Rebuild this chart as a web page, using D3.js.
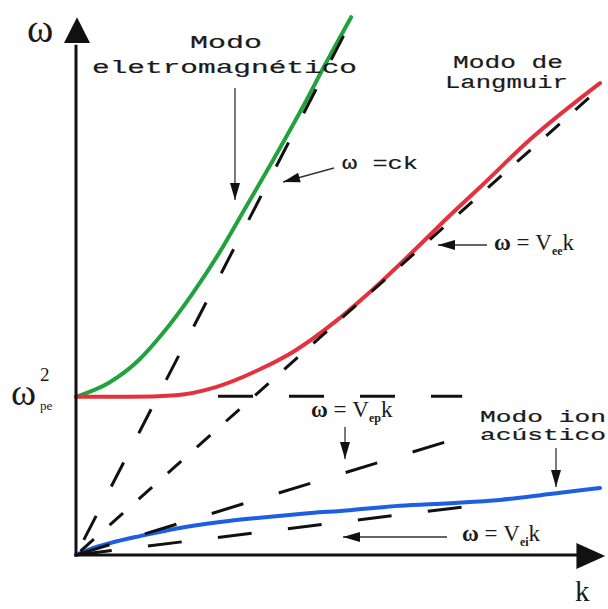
<!DOCTYPE html>
<head>
<meta charset="utf-8">
<style>
body { margin: 0; background: #fff; }
.mono { font-family: "Liberation Mono", "DejaVu Sans Mono", monospace; font-size: 19px; fill: #1a1a1a; stroke: #1a1a1a; stroke-width: 0.2; }
.math { font-family: "Liberation Serif", "DejaVu Serif", serif; fill: #1a1a1a; }
.curve { fill: none; stroke-width: 4; stroke-linecap: round; }
.asym { fill: none; stroke: #111; stroke-width: 3; }
.axis { stroke: #111; stroke-width: 3; fill: none; }
.pointer { stroke: #333; stroke-width: 1.3; fill: none; }
</style>
<title>Relação de dispersão</title>
</head>
<body>
<svg width="608" height="609"></svg>
<script src="https://d3js.org/d3.v7.min.js"></script>
<script>
/* global d3 */
// modo eletromagnetico (verde)
var emK = [0, 0.63, 1.2, 1.66, 2.23, 2.73, 3.24, 3.76, 4.33, 4.77, 5.25],
    emW = [2.93, 3.19, 3.61, 4.11, 4.85, 5.59, 6.44, 7.31, 8.3, 9.11, 9.96]
// modo de Langmuir (vermelho)
var lgK = [0, 1.03, 1.91, 2.67, 3.49, 4.14, 4.96, 5.53, 6.56, 7.04, 7.71, 8.66, 10],
    lgW = [2.93, 2.93, 2.96, 3.11, 3.43, 3.76, 4.33, 4.8, 5.74, 6.2, 6.81, 7.69, 8.74]
// modo ion acustico (azul)
var iaK = [0, 0.27, 0.65, 1.22, 1.98, 2.75, 3.51, 4.27, 5.23, 6.18, 7.14, 8.09, 9.05, 10],
    iaW = [0, 0.11, 0.22, 0.35, 0.5, 0.61, 0.69, 0.76, 0.83, 0.91, 0.96, 1.02, 1.13, 1.24]
// assintotas tracejadas: [k0, w0, k1, w1]
var asymNames = ["ck", "Vee", "wpe", "Vep", "Vei"],
    asymEnds = [[0, 0, 5.29, 9.96], [0, 0, 10, 8.65], [2.71, 2.94, 7.37, 2.94], [0, 0, 7.04, 2.09], [0, 0, 7.39, 0.89]],
    asymDash = ["27,33", "18,21", "35,36", "33,37", "34,36.5"],
    asymOffset = [43, 33, 0, 68, 68.5]

var svg = d3.select("svg")
var x = d3.scaleLinear().domain([0, 10]).range([76, 600]),
    y = d3.scaleLinear().domain([0, 10]).range([555, 15])

var line = d3.line()
    .x(function(d) { return x(d[0]); })
    .y(function(d) { return y(d[1]); })
    .curve(d3.curveMonotoneX)

function pairs(ks, ws) { return ks.map(function(k, i) { return [k, ws[i]]; }); }

// curvas coloridas
svg.append("path").attr("class", "curve").attr("stroke", "#22a23c").attr("d", line(pairs(emK, emW)))
svg.append("path").attr("class", "curve").attr("stroke", "#e3323e").attr("d", line(pairs(lgK, lgW)))
svg.append("path").attr("class", "curve").attr("stroke", "#1d5fe0").attr("d", line(pairs(iaK, iaW)))

// linhas tracejadas
svg.selectAll(".asym")
  .data(asymEnds)
  .enter().append("line")
    .attr("class", "asym")
    .attr("x1", function(d) { return x(d[0]); })
    .attr("y1", function(d) { return y(d[1]); })
    .attr("x2", function(d) { return x(d[2]); })
    .attr("y2", function(d) { return y(d[3]); })
    .attr("stroke-dasharray", function(d, i) { return asymDash[i]; })
    .attr("stroke-dashoffset", function(d, i) { return asymOffset[i]; })

// eixos com setas
svg.append("path").attr("class", "axis")
    .attr("d", "M" + x(0) + "," + (y(0) + 1.5) + "V" + y(9.45))
svg.append("path").attr("class", "axis")
    .attr("d", "M" + (x(0) - 1.5) + "," + y(0) + "H" + x(9.6))
svg.append("path").attr("fill", "#111")
    .attr("d", "M" + (x(0) + 1) + "," + y(9.96) + "L" + (x(0) - 12) + "," + y(9.48) + "L" + (x(0) + 14) + "," + y(9.48) + "Z")
svg.append("path").attr("fill", "#111")
    .attr("d", "M" + x(10.1) + "," + (y(0) + 1) + "L" + x(9.55) + "," + (y(0) - 12) + "L" + x(9.55) + "," + (y(0) + 14) + "Z")

// rotulos dos eixos
svg.append("text").attr("class", "math").attr("x", 27).attr("y", 42).style("font-size", "40px").text("ω")
svg.append("text").attr("class", "math").attr("x", 575).attr("y", 601).style("font-size", "29px").text("k")
var wpe = svg.append("g").attr("class", "math")
wpe.append("text").attr("x", 11).attr("y", 405).style("font-size", "38px").text("ω")
wpe.append("text").attr("x", 40).attr("y", 381).style("font-size", "19px").text("2")
wpe.append("text").attr("x", 40).attr("y", 410).style("font-size", "13px").text("pe")

// textos dos modos
function mono(txt, x0, y0, len, fs) {
  svg.append("text").attr("class", "mono")
      .attr("x", x0).attr("y", y0)
      .attr("textLength", len).attr("lengthAdjust", "spacingAndGlyphs")
      .style("font-size", (fs || 19) + "px")
      .text(txt)
}
mono("Modo", 190, 48, 72)
mono("eletromagnético", 92, 73, 265)
mono("Modo de", 453, 68, 110)
mono("Langmuir", 445, 88, 123)
mono("Modo ion", 480, 422, 126, 16)
mono("acústico", 480, 440, 126, 16)
mono("ω =ck", 342, 169, 76)

// expressoes das velocidades
function vel(x0, y0, sub) {
  var t = svg.append("text").attr("class", "math").attr("x", x0).attr("y", y0).style("font-size", "23px")
  t.append("tspan").style("font-weight", "bold").text("ω")
  t.append("tspan").text(" = V")
  t.append("tspan").attr("dy", 5).style("font-size", "12px").style("font-weight", "bold").text(sub)
  t.append("tspan").attr("dy", -5).text("k")
}
vel(494, 250, "ee")
vel(311, 417, "ep")
vel(462, 541, "ei")

// setas de indicacao
function pointer(x1, y1, x2, y2) {
  svg.append("line").attr("class", "pointer")
      .attr("x1", x1).attr("y1", y1).attr("x2", x2).attr("y2", y2)
  var a = Math.atan2(y2 - y1, x2 - x1), L = 17, W = 5
  var bx = x2 - L * Math.cos(a), by = y2 - L * Math.sin(a)
  svg.append("path").attr("fill", "#111")
      .attr("d", "M" + x2 + "," + y2 +
        "L" + (bx - W * Math.sin(a)) + "," + (by + W * Math.cos(a)) +
        "L" + (bx + W * Math.sin(a)) + "," + (by - W * Math.cos(a)) + "Z")
}
pointer(235, 88, 235, 200)
pointer(334, 168, 283, 182)
pointer(487, 245, 438, 245)
pointer(345, 427, 345, 459)
pointer(447, 537, 343, 537)
pointer(556, 448, 556, 487)
</script>
</body>
